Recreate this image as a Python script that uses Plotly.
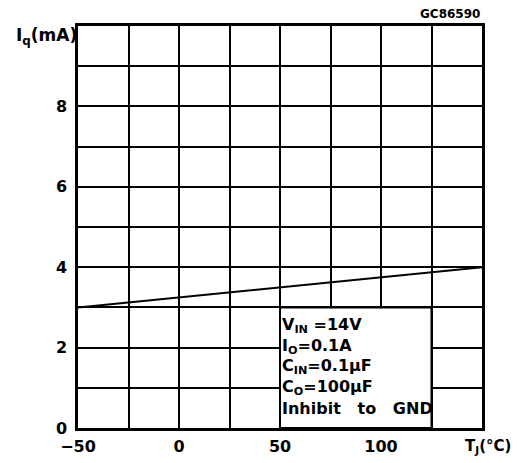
import plotly.graph_objects as go

# Data
temp_c = [-50, 150]
iq_ma = [3.0, 4.0]

x_tickvals = [-50, 0, 50, 100]
x_ticktext = ["−50", "0", "50", "100"]
y_tickvals = [0, 2, 4, 6, 8]
y_ticktext = ["0", "2", "4", "6", "8"]

cond_lines = [
    "V<sub>IN</sub> =14V",
    "I<sub>O</sub>=0.1A",
    "C<sub>IN</sub>=0.1μF",
    "C<sub>O</sub>=100μF",
    "Inhibit   to   GND",
]

FONT = "DejaVu Sans"

fig = go.Figure()
fig.add_trace(go.Scatter(x=temp_c, y=iq_ma, mode="lines",
                         line=dict(color="black", width=2), showlegend=False,
                         hoverinfo="skip"))

fig.update_layout(
    width=511, height=455,
    margin=dict(l=70, r=37, t=18, b=35),
    paper_bgcolor="white", plot_bgcolor="white",
    font=dict(family=FONT, size=16, color="black"),
    xaxis=dict(range=[-50, 150], tickmode="array", tickvals=x_tickvals,
               ticktext=x_ticktext, showgrid=True, gridcolor="black", gridwidth=2,
               minor=dict(tick0=-50, dtick=25, showgrid=True, gridcolor="black",
                          gridwidth=2, ticks=""),
               zeroline=False, showline=True, linecolor="black", linewidth=2.5,
               mirror=True, ticks="", ticklabelstandoff=2, automargin=False,
               tickfont=dict(family=FONT, size=16, weight="bold")),
    yaxis=dict(range=[0, 10], tickmode="array", tickvals=y_tickvals,
               ticktext=y_ticktext, showgrid=True, gridcolor="black", gridwidth=2,
               minor=dict(tick0=0, dtick=1, showgrid=True, gridcolor="black",
                          gridwidth=2, ticks=""),
               zeroline=False, showline=True, linecolor="black", linewidth=2.5,
               mirror=True, ticks="", ticklabelstandoff=5, automargin=False,
               tickfont=dict(family=FONT, size=16, weight="bold")),
)

# Conditions box (covers grid)
fig.add_shape(type="rect", x0=50, x1=125, y0=0, y1=3, xref="x", yref="y",
              fillcolor="white", line=dict(color="black", width=2), layer="above")

for i, t in enumerate(cond_lines):
    fig.add_annotation(x=50, y=2.55 - i * 0.515, xref="x", yref="y", text=t,
                       showarrow=False, xanchor="left", yanchor="middle", xshift=0,
                       font=dict(family=FONT, size=16, weight="bold"))

fig.add_annotation(x=0, y=1, xref="paper", yref="paper", text="I<sub>q</sub>(mA)",
                   showarrow=False, xanchor="right", yanchor="top", xshift=1, yshift=3,
                   font=dict(family=FONT, size=17, weight="bold"))
fig.add_annotation(x=1, y=0, xref="paper", yref="paper", text="T<sub>J</sub>(°C)",
                   showarrow=False, xanchor="right", yanchor="middle", xshift=31, yshift=-18,
                   font=dict(family=FONT, size=15, weight="bold"))
fig.add_annotation(x=1, y=1, xref="paper", yref="paper", text="GC86590",
                   showarrow=False, xanchor="right", yanchor="middle", yshift=12,
                   font=dict(family=FONT, size=12, weight="bold"))

fig.write_html("out.html")
